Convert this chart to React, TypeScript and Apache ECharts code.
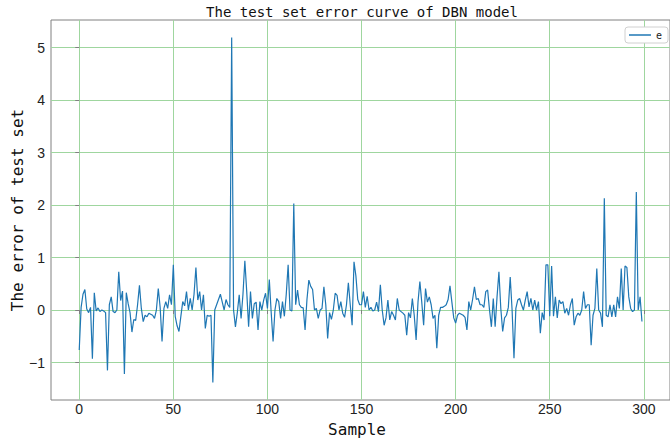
import React, { useEffect, useRef } from "react";
import * as echarts from "echarts";

const errorsA = [
  -0.76, 0.05, 0.3, 0.39, 0.02, -0.05, 0.05, -0.93, 0.33, -0.02,
  0.04, -0.03, 0.0, -0.02, -0.05, -1.15, 0.1, 0.25, -0.03, -0.05,
  0.0, 0.73, 0.18, 0.36, -1.22, 0.33, 0.12, -0.05, -0.42, -0.18,
  -0.2, 0.1, 0.47, 0.03, -0.22, -0.1, -0.13, -0.06, -0.08, -0.1,
  -0.16, 0.0, 0.41, 0.05, -0.6, 0.03, 0.16, 0.03, 0.29, 0.1,
];
const errorsB = [
  0.86, -0.12, -0.3, -0.41, -0.12, 0.16, 0.08, 0.35, 0.0, 0.22,
  0.0, 0.3, 0.81, 0.19, 0.35, 0.0, 0.29, -0.35, -0.1, -0.12,
  -0.1, -1.38, 0.0, 0.1, 0.2, 0.3, 0.15, 0.0, 0.2, 0.1,
  0.05, 5.19, 0.0, -0.32, -0.05, 0.29, -0.16, 0.3, 0.94, 0.35,
  -0.32, 0.35, -0.16, 0.12, 0.15, -0.38, 0.16, 0.0, 0.19, 0.32,
];
const errorsC = [
  0.03, 0.58, -0.05, -0.6, 0.0, 0.22, 0.16, -0.16, 0.16, -0.12,
  0.3, 0.86, 0.0, -0.02, 2.03, 0.1, 0.38, 0.1, 0.05, 0.04,
  -0.38, 0.2, 0.57, 0.45, 0.39, 0.0, 0.03, -0.16, 0.0, 0.03,
  0.44, 0.1, -0.54, -0.05, -0.18, 0.0, 0.32, 0.28, 0.0, 0.16,
  -0.06, -0.14, 0.1, 0.52, 0.1, -0.29, 0.92, 0.65, 0.2, 0.1,
];
const errorsD = [
  0.1, 0.35, 0.05, 0.26, 0.0, 0.05, -0.02, 0.0, 0.15, -0.03,
  0.48, 0.0, -0.29, -0.15, 0.19, -0.19, -0.03, -0.1, -0.19, 0.22,
  0.0, -0.03, -0.06, -0.1, -0.48, -0.05, -0.15, 0.22, -0.1, -0.57,
  0.15, 0.54, 0.15, -0.29, 0.41, 0.15, 0.25, 0.1, -0.16, -0.1,
  -0.73, -0.1, 0.05, 0.05, 0.07, 0.1, 0.2, 0.46, 0.15, -0.15,
];
const errorsE = [
  -0.25, -0.1, -0.06, -0.08, -0.1, -0.14, -0.38, 0.16, 0.0, 0.2,
  0.44, 0.2, 0.22, 0.1, 0.1, 0.05, 0.35, 0.38, 0.0, -0.32,
  0.22, -0.32, 0.25, 0.73, 0.03, -0.41, -0.15, -0.1, 0.05, 0.63,
  0.0, -0.92, 0.03, 0.19, 0.22, 0.1, 0.0, 0.19, 0.35, 0.06,
  0.22, 0.0, 0.19, 0.0, 0.16, -0.44, -0.05, -0.19, 0.86, 0.86,
];
const errorsF = [
  -0.12, 0.84, -0.12, 0.25, -0.15, 0.19, 0.12, 0.16, -0.06, 0.03,
  -0.1, 0.1, 0.22, -0.29, -0.13, -0.06, -0.1, 0.0, 0.35, 0.03,
  0.1, 0.1, -0.67, -0.1, 0.03, 0.79, 0.0, -0.06, -0.32, 2.13,
  -0.1, -0.13, 0.1, -0.13, 0.1, -0.13, 0.25, 0.03, 0.79, 0.0,
  0.84, 0.81, 0.25, 0.03, -0.03, 0.0, 2.25, 0.0, 0.25, -0.22,
];

const xTicks = [0, 50, 100, 150, 200, 250, 300];
const yTicks = [-1, 0, 1, 2, 3, 4, 5];
const seriesName = "e";
const titleText = "The test set error curve of DBN model";
const xLabel = "Sample";
const yLabel = "The error of test set";

export default function App() {
  const ref = useRef<HTMLDivElement>(null);
  useEffect(() => {
    if (!ref.current) return;
    const chart = echarts.init(ref.current, undefined, { renderer: "svg" });
    const errors = [...errorsA, ...errorsB, ...errorsC, ...errorsD, ...errorsE, ...errorsF];
    const data = errors.map((v, i) => [i, v]);
    const fmt = (v: number) => {
      if (Math.abs(v - Math.round(v)) > 1e-6) return "";
      return v < 0 ? "\u2212" + Math.abs(v) : String(v);
    };
    const gridColor = "#9fd69f";
    chart.setOption({
      animation: false,
      backgroundColor: "#ffffff",
      grid: {
        left: 51,
        top: 20,
        right: -3,
        bottom: 38,
        show: true,
        borderColor: "#808080",
        borderWidth: 1,
        containLabel: false,
      },
      legend: {
        data: [{ name: seriesName, icon: "rect" }],
        left: 625,
        top: 27,
        padding: [3, 6, 3, 4],
        itemWidth: 22,
        itemHeight: 1.5,
        borderColor: "#d0d0d0",
        borderWidth: 1,
        borderRadius: 3,
        backgroundColor: "#ffffff",
        textStyle: { fontSize: 10, fontFamily: "DejaVu Sans Mono", color: "#222", lineHeight: 10 },
      },
      xAxis: {
        type: "value",
        min: -15,
        max: 313.9,
        minInterval: 50,
        maxInterval: 50,
        axisLine: { show: false },
        axisTick: { show: true, length: 4, lineStyle: { color: "#808080" }, customValues: xTicks },
        axisLabel: {
          fontSize: 14,
          fontFamily: "Liberation Sans",
          color: "#222",
          margin: 2,
          customValues: xTicks,
          formatter: fmt,
        },
        splitLine: { show: true, lineStyle: { color: gridColor, width: 1 } },
      },
      yAxis: {
        type: "value",
        min: -1.714,
        max: 5.524,
        minInterval: 1,
        maxInterval: 1,
        axisLine: { show: false },
        axisTick: { show: true, length: 4, lineStyle: { color: "#808080" }, customValues: yTicks },
        axisLabel: {
          fontSize: 14,
          fontFamily: "Liberation Sans",
          color: "#222",
          margin: 6,
          customValues: yTicks,
          formatter: fmt,
        },
        splitLine: { show: true, lineStyle: { color: gridColor, width: 1 } },
      },
      series: [
        {
          name: seriesName,
          type: "line",
          data,
          symbol: "none",
          showSymbol: false,
          lineStyle: { color: "#1f77b4", width: 1.2 },
          itemStyle: { color: "#1f77b4" },
        },
      ],
      graphic: [
        {
          type: "text",
          x: 362,
          y: 12,
          style: {
            text: titleText,
            font: "14px 'DejaVu Sans Mono'",
            fill: "#111",
            textAlign: "center",
            textVerticalAlign: "middle",
          },
        },
        {
          type: "text",
          x: 357,
          y: 429,
          style: {
            text: xLabel,
            font: "16px 'DejaVu Sans Mono'",
            fill: "#111",
            textAlign: "center",
            textVerticalAlign: "middle",
          },
        },
        {
          type: "text",
          x: 17,
          y: 210,
          rotation: Math.PI / 2,
          style: {
            text: yLabel,
            font: "16px 'DejaVu Sans Mono'",
            fill: "#111",
            textAlign: "center",
            textVerticalAlign: "middle",
          },
        },
      ],
    });
    return () => chart.dispose();
  }, []);
  return (
    <div
      ref={ref}
      style={{ position: "absolute", left: 0, top: 0, width: 670, height: 438 }}
    />
  );
}
